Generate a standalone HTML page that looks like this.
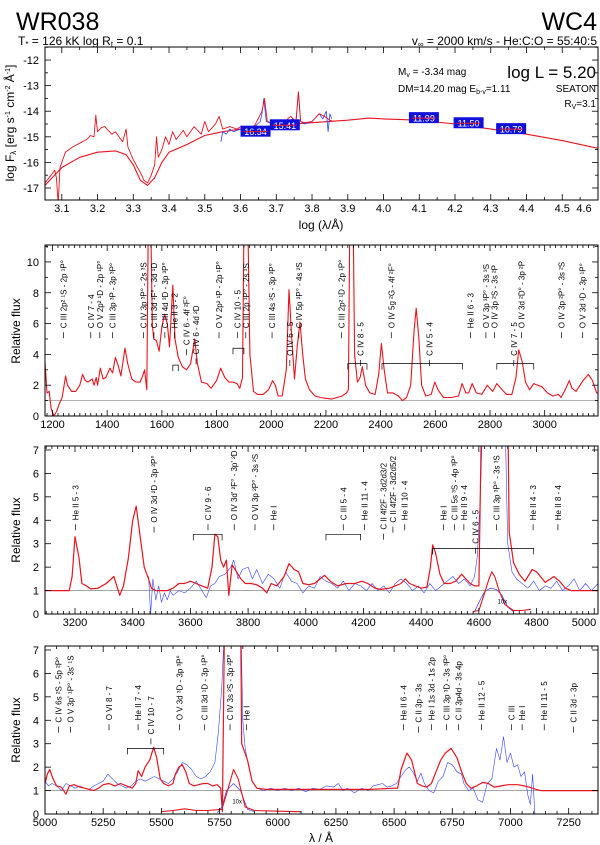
<!DOCTYPE html>
<html><head><meta charset="utf-8"><style>
html,body{margin:0;padding:0;background:#fff;}
svg{display:block;font-family:"Liberation Sans",sans-serif;}
</style></head><body>
<svg id="fig" width="600" height="845" viewBox="0 0 600 845" xmlns="http://www.w3.org/2000/svg">
<text x="16" y="30" font-size="25">WR038</text>
<text x="18" y="45" font-size="12">T<tspan font-size="8" dy="2">*</tspan><tspan dy="-2"> = 126 kK  log R</tspan><tspan font-size="8" dy="2">t</tspan><tspan dy="-2"> = 0.1</tspan></text>
<text x="597" y="30" font-size="25" text-anchor="end">WC4</text>
<text x="597" y="45" font-size="12" text-anchor="end">v<tspan font-size="8" dy="2">∞</tspan><tspan dy="-2"> = 2000 km/s - He:C:O = 55:40:5</tspan></text>
<g id="layer"></g>
</svg>
<script>
// ---------- DATA ----------
const sedModelX=[3.053,3.1,3.15,3.2,3.25,3.28,3.3,3.32,3.34,3.36,3.38,3.4,3.45,3.5,3.55,3.6,3.7,3.8,3.9,3.96,4.0,4.1,4.2,4.3,4.4,4.5,4.6];
const sedModelY=[-16.9,-16.2,-15.8,-15.6,-15.55,-15.7,-16.1,-16.7,-16.9,-16.6,-16.0,-15.6,-15.3,-14.95,-14.8,-14.7,-14.55,-14.45,-14.35,-14.27,-14.3,-14.35,-14.5,-14.7,-14.9,-15.15,-15.45];
const sedLineX=[3.053,3.07,3.08,3.085,3.09,3.095,3.11,3.13,3.15,3.17,3.18,3.19,3.195,3.2,3.21,3.22,3.23,3.24,3.25,3.26,3.27,3.28,3.285,3.3,3.32,3.33,3.34,3.35,3.36,3.365,3.37,3.38,3.39,3.4,3.41,3.42,3.44,3.45,3.47,3.49,3.5,3.51,3.53,3.54,3.55,3.57,3.59,3.6,3.62,3.64,3.66,3.667,3.675,3.7,3.72,3.74,3.755,3.762,3.768,3.78,3.8,3.82,3.835,3.85,3.86];
const sedLineY=[-16.8,-16.5,-16.3,-16.6,-17.6,-16.2,-15.6,-15.4,-15.25,-15.1,-14.95,-15.0,-14.15,-14.8,-14.65,-14.6,-14.75,-14.9,-14.8,-15.0,-15.2,-14.7,-15.4,-15.9,-16.4,-16.7,-16.8,-16.5,-16.1,-15.0,-15.8,-15.5,-15.0,-15.3,-14.8,-15.1,-14.75,-15.0,-14.6,-14.9,-14.4,-14.8,-14.5,-14.2,-14.7,-14.6,-14.7,-14.6,-14.7,-14.55,-14.0,-13.5,-14.4,-14.5,-14.45,-14.2,-14.4,-13.25,-14.4,-14.45,-14.4,-14.1,-14.2,-14.35,-14.4];
const sedObsX=[3.545,3.55,3.56,3.57,3.58,3.6,3.62,3.64,3.655,3.66,3.665,3.672,3.69,3.71,3.73,3.745,3.755,3.762,3.768,3.78,3.8,3.82,3.83,3.84,3.845,3.85,3.855];
const sedObsY=[-15.2,-14.8,-14.9,-14.7,-14.8,-14.7,-14.6,-14.6,-14.4,-14.1,-13.5,-14.4,-14.5,-14.5,-14.5,-14.3,-14.5,-13.25,-14.4,-14.5,-14.4,-14.1,-14.3,-14.0,-14.8,-14.1,-14.3];
const photX=[3.642,3.724,4.113,4.238,4.357];
const photY=[-14.8,-14.55,-14.27,-14.47,-14.7];
const photLabels=["16.34","15.41","11.99","11.50","10.79"];

const p2RedX=[1172,1180,1188,1195,1205,1215,1225,1235,1240,1248,1255,1270,1285,1300,1310,1320,1330,1345,1352,1360,1365,1375,1385,1395,1410,1420,1430,1440,1450,1465,1475,1490,1505,1520,1530,1537,1545,1550,1560,1565,1570,1580,1590,1600,1610,1620,1628,1640,1648,1660,1675,1690,1705,1720,1730,1745,1765,1780,1800,1815,1830,1845,1860,1875,1885,1895,1900,1915,1922,1935,1950,1970,1990,2005,2015,2025,2040,2055,2065,2075,2085,2095,2105,2115,2125,2140,2160,2180,2200,2220,2240,2260,2275,2282,2287,2300,2305,2315,2325,2333,2345,2360,2380,2393,2403,2413,2425,2445,2465,2480,2495,2510,2522,2530,2540,2550,2565,2585,2598,2610,2630,2660,2685,2698,2712,2722,2735,2750,2770,2790,2800,2810,2825,2840,2860,2880,2895,2905,2918,2930,2945,2960,2975,2990,3010,3030,3050,3060,3075,3090,3100,3115,3140,3160,3175,3190,3195];
const p2RedY=[3.7,1.5,1.6,0.5,0,0.3,0.8,1.2,1.7,2.6,2.0,1.6,1.6,2.0,2.7,2.3,2.2,2.4,2.0,2.5,2.0,3.1,2.4,2.5,3.1,2.8,3.8,3.3,2.6,4.4,3.4,2.4,2.2,2.2,2.6,3.0,1.7,12,12,6,5.0,4.9,4.2,5.8,6.6,6.0,4.5,8.5,5,3.8,3.2,3.0,3.4,5.0,3.4,2.2,2.1,1.8,2.3,3.1,2.5,2.2,2.2,2.1,1.8,2.5,12,12,4,1.6,1.4,1.4,1.7,2.3,2.0,1.3,1.3,3,8.2,5,2.4,4.5,6.1,4,2.4,1.7,1.3,1.2,1.15,1.1,1.2,1.3,1.5,1.7,12,12,4,2.2,2.5,3.2,2.0,1.5,1.4,2.7,4.7,3.0,1.5,1.5,1.3,1.0,1.2,2.0,5.5,7.0,5,2.0,1.3,1.4,2.2,1.7,1.2,1.2,1.3,2.1,1.5,1.5,2.1,1.5,1.4,2.0,1.8,1.6,2.1,1.8,1.4,1.4,2.5,4.3,3.5,2.2,1.7,2.1,2.0,1.9,1.5,1.3,1.4,1.2,1.7,2.3,1.8,1.6,2.3,2.7,2.3,1.5,1.5];

const p3RedX=[3096,3180,3190,3200,3214,3224,3240,3254,3280,3308,3335,3355,3368,3385,3400,3412,3425,3440,3455,3465,3480,3500,3520,3540,3560,3580,3600,3620,3640,3660,3675,3685,3695,3705,3715,3725,3733,3745,3760,3775,3790,3810,3830,3850,3865,3880,3900,3925,3942,3960,3975,3990,4010,4030,4050,4065,4085,4110,4140,4170,4195,4215,4240,4260,4290,4310,4330,4345,4360,4380,4400,4420,4432,4440,4450,4465,4480,4500,4520,4540,4555,4570,4585,4600,4610,4700,4705,4720,4740,4760,4785,4800,4830,4860,4880,4900,4920,5013];
const p3RedY=[1.0,1.0,1.6,3.3,2.4,1.3,1.2,1.07,1.1,1.3,1.6,0.8,1.2,2.4,4.0,4.6,3.4,2.0,1.5,1.1,1.0,1.0,1.0,1.1,1.3,1.3,1.4,1.3,1.2,1.1,2.0,3.4,3.3,2.3,2.0,2.3,0.8,2.1,1.8,1.5,1.3,1.3,1.25,1.1,0.9,1.3,1.2,1.6,2.15,1.9,1.8,1.3,1.25,1.3,1.5,1.65,1.4,1.2,1.3,1.3,1.4,1.3,1.1,1.05,1.1,1.2,1.3,1.5,1.3,1.2,1.1,1.15,2.0,2.95,2.6,1.7,1.3,1.3,1.4,1.7,1.5,1.3,1.2,1.2,9,9,3.5,2.2,1.7,1.4,1.9,1.8,1.35,1.6,1.4,1.1,1.0,1.0];
const p3BlueX=[3455,3462,3470,3480,3490,3500,3510,3520,3530,3540,3560,3580,3600,3620,3640,3655,3670,3685,3700,3720,3740,3750,3765,3780,3800,3815,3830,3850,3870,3890,3910,3930,3950,3970,3990,4010,4030,4050,4070,4090,4110,4130,4150,4170,4190,4210,4230,4250,4270,4290,4310,4330,4350,4370,4390,4410,4430,4450,4470,4490,4510,4530,4550,4570,4585,4595,4605,4615,4690,4700,4715,4730,4750,4770,4790,4810,4830,4850,4870,4890,4910,4930,4950,4970,4990,5013];
const p3BlueY=[1.6,0.0,1.5,0.6,1.2,0.5,0.9,0.6,1.0,0.8,1.0,0.9,1.1,1.4,1.0,0.7,1.2,1.3,1.6,1.7,2.0,2.3,1.5,1.9,2.0,1.5,1.9,1.3,1.7,1.5,1.1,1.8,1.4,1.3,0.9,1.2,1.1,1.6,1.4,1.3,1.1,1.4,1.0,1.3,1.2,1.0,1.3,1.0,1.2,0.9,1.3,1.5,1.3,1.0,1.2,0.9,1.3,1.0,1.2,1.4,1.6,1.3,1.5,1.2,1.6,2.5,5,9,9,3,1.8,1.5,1.3,1.1,1.4,1.0,1.2,1.1,1.4,1.0,1.2,1.5,1.0,1.3,1.0,1.3];
const p3InsetRedX=[4580,4600,4620,4635,4645,4655,4670,4690,4720,4750,4780];
const p3InsetRedY=[0.1,0.15,0.9,1.5,1.8,1.6,1.0,0.4,0.15,0.15,0.2];
const p3InsetBlueX=[4585,4600,4620,4640,4660,4680,4700,4720];
const p3InsetBlueY=[0.1,0.5,0.95,1.1,1.05,0.8,0.3,0.1];

const p4RedX=[5000,5010,5020,5035,5050,5070,5090,5105,5125,5150,5170,5190,5210,5230,5250,5275,5300,5325,5350,5375,5390,5400,5415,5430,5450,5467,5480,5495,5510,5530,5550,5560,5575,5590,5605,5620,5640,5660,5680,5700,5720,5740,5755,5762,5772,5840,5845,5870,5890,5910,5950,6000,6100,6200,6300,6400,6500,6515,6530,6555,6575,6600,6620,6640,6660,6680,6700,6720,6745,6770,6790,6810,6830,6855,6880,6905,6930,6960,6990,7030,7060,7080,7110,7130,7376];
const p4RedY=[1.3,1.7,1.9,1.5,1.2,1.15,0.85,1.2,1.25,1.15,1.1,1.05,1.0,1.1,1.25,1.3,1.2,1.3,1.2,1.1,1.3,1.85,1.6,2.0,2.3,2.85,2.4,1.5,1.3,1.2,1.3,1.7,2.0,2.1,1.8,1.3,1.2,1.25,1.3,1.3,1.2,1.25,1.1,0.1,9,9,3.0,2.3,1.4,1.1,1.05,1.05,1.05,1.05,1.05,1.05,1.1,1.1,1.9,2.6,2.3,1.3,1.2,1.15,1.3,1.8,2.3,2.6,2.8,2.4,1.8,1.3,1.1,1.2,1.35,1.3,1.15,1.2,1.25,1.25,1.2,1.15,1.05,1.0,1.0];
const p4BlueX=[5000,5015,5030,5050,5070,5090,5110,5130,5150,5170,5190,5210,5230,5250,5270,5290,5310,5330,5350,5370,5390,5410,5430,5450,5470,5490,5510,5530,5550,5570,5590,5610,5630,5650,5670,5690,5710,5730,5745,5760,5775,5840,5850,5860,5875,5890,5910,5940,5970,6000,6030,6060,6090,6120,6150,6180,6210,6240,6260,6280,6300,6330,6360,6390,6410,6430,6450,6470,6490,6510,6530,6550,6565,6580,6600,6615,6630,6650,6670,6690,6710,6730,6750,6770,6790,6800,6820,6840,6860,6880,6900,6920,6940,6955,6970,6985,7000,7015,7030,7045,7060,7075,7085,7095,7105];
const p4BlueY=[1.4,1.2,1.3,1.2,1.0,1.3,1.2,1.1,1.2,1.1,1.05,1.2,1.3,1.4,1.7,1.5,1.3,1.2,1.1,1.2,1.4,1.5,1.4,1.5,1.6,1.5,1.4,1.3,1.5,1.8,2.2,2.1,1.9,1.6,1.5,1.6,1.8,2.2,3.5,5.5,9,9,4,2.8,2.0,1.4,1.1,1.0,1.1,1.0,1.1,1.0,1.1,0.95,1.1,1.05,1.2,1.15,1.3,1.0,1.1,0.9,1.1,1.0,1.2,1.25,1.3,1.15,1.2,1.3,1.6,1.9,2.0,1.8,1.4,1.75,1.3,1.0,0.9,1.4,1.6,2.2,2.1,1.8,1.7,1.3,1.0,1.1,0.6,0.5,1.3,1.5,2.8,2.3,3.3,2.2,2.6,2.0,2.1,1.6,1.8,0.8,0.4,1.7,0];
const p4InsetRedX=[5500,5550,5600,5650,5700,5760,5790,5810,5830,5860,5900,6000,6100];
const p4InsetRedY=[0.1,0.15,0.22,0.15,0.15,0.2,1.2,1.9,1.5,0.3,0.15,0.12,0.1];
const p4InsetBlueX=[5740,5760,5780,5810,5840,5870,5900];
const p4InsetBlueY=[0.05,0.3,1.0,1.3,1.0,0.2,0.1];

// line identifications: wavelength, label, text-start value
const p2Ids=[[1240,"C III 2p² ¹S - 2p ¹P°",5.7],[1340,"C IV 7 - 4",5.7],[1373,"O V 2p² ¹D - 2p ¹P°",5.7],[1419,"C III 3p ³P - 3p ³P°",5.7],[1533,"C IV 3p ³P° - 2s ³S",5.7],[1571,"C III 3d ¹F° - 3d ¹D",5.7],[1611,"C III 4d ³D - 3p ³P°",5.7],[1646,"He II 3 - 2",5.7],[1690,"C IV 6 - 4f ²F°",4.6],[1725,"C IV 6 - 4d ²D",4.0],[1809,"O V 2p² ¹P - 2p ¹P°",5.7],[1876,"C IV 10 - 5",5.7],[1907,"C III 2p ¹P° - 2s ¹S",5.7],[2003,"C III 4s ³S - 3p ³P°",5.7],[2068,"O IV 6 - 5",3.9],[2101,"C IV 5p ²P° - 4s ²S",5.7],[2257,"C III 2p² ¹D - 2p ¹P°",5.7],[2327,"C IV 8 - 5",3.9],[2439,"O IV 5g ²G - 4f ²F°",5.7],[2579,"C IV 5 - 4",3.9],[2729,"He II 6 - 3",5.7],[2785,"O V 3p ³P° - 3s ³S",5.7],[2817,"O IV 3p ²S - 3s ²P",5.7],[2887,"C IV 7 - 5",3.9],[2915,"O IV 3d ²D° - 3p ²P",5.7],[3062,"O IV 3p ²P° - 3s ²S",5.7],[3139,"O V 3d ¹D - 3p ¹P°",5.7]];
const p3Ids=[[3202,"He II 5 - 3",4.0],[3474,"O IV 3d ²D - 3p ²P°",3.9],[3661,"C IV 9 - 6",4.0],[3752,"O IV 3d' ²F° - 3p' ²D",4.0],[3824,"O VI 3p ²P° - 3s ²S",4.0],[3889,"He I",4.0],[4130,"C III 5 - 4",4.0],[4204,"He II 11 - 4",4.0],[4270,"C II 4f2F - 3d2d3/2",3.6],[4302,"C II 4f2F - 3d2d5/2",3.9],[4343,"He II 10 - 4",4.0],[4478,"He I",4.0],[4515,"C III 5s ³S - 4p ³P°",4.0],[4548,"He II 9 - 4",4.0],[4588,"C IV 6 - 5",3.0],[4661,"C III 3p ³P° - 3s ³S",4.0],[4788,"He II 4 - 3",4.0],[4874,"He II 8 - 4",4.0]];
const p4Ids=[[5058,"C IV 6s ²S - 5p ²P°",3.9],[5110,"O V 3p' ¹P° - 3s' ¹S",3.9],[5275,"O VI 8 - 7",4.0],[5400,"He II 7 - 4",4.0],[5455,"C IV 10 - 7",3.4],[5578,"O V 3d ³D - 3p ³P°",4.0],[5686,"C III 3d ¹D - 3p ¹P°",4.0],[5795,"C IV 3s ²S - 3p ²P°",4.0],[5866,"He I",4.0],[6540,"He II 6 - 4",4.0],[6605,"C II 3p - 3s",3.9],[6660,"He I 1s 3d - 1s 2p",4.0],[6725,"C III 3p ³D - 3s ³P°",4.0],[6777,"C II 3p4d - 3s 4p",4.0],[6876,"He II 12 - 5",4.0],[7004,"C III",4.0],[7050,"He I",4.0],[7145,"He II 11 - 5",4.0],[7270,"C II 3d - 3p",3.9]];
// multiplet brackets: start, end, level
const p2Brackets=[[1640,1660,3.3],[1860,1900,4.4],[2280,2350,3.4],[2405,2700,3.4],[2825,2960,3.4]];
const p3Brackets=[[3610,3710,3.4],[4070,4190,3.4],[4440,4790,2.8]];
const p4Brackets=[[5354,5510,2.8]];

// ---------- DRAWING ----------
const NS="http://www.w3.org/2000/svg";
const layer=document.getElementById('layer');
function mk(tag,attrs,parent){const e=document.createElementNS(NS,tag);for(const k in attrs)e.setAttribute(k,attrs[k]);(parent||layer).appendChild(e);return e;}
function axes(c){return {x:v=>c.L+(v-c.xmin)/(c.xmax-c.xmin)*(c.R-c.L),y:v=>c.B-(v-c.ymin)/(c.ymax-c.ymin)*(c.B-c.T)};}
function panel(c,name){
  const g=mk('g',{});
  
  
  const clipId='clip-'+name;
  const cp=mk('clipPath',{id:clipId},g);mk('rect',{x:c.L,y:c.T,width:c.R-c.L,height:c.B-c.T},cp);
  const A=axes(c);
  const plot=mk('g',{'clip-path':'url(#'+clipId+')'},g);
  
  
  const xt=mk('g',{stroke:'#000','stroke-width':0.8},g);
  
  
  const eps=1e-6;
  for(let v=Math.ceil(c.xmin/c.minor)*c.minor;v<=c.xmax+eps;v+=c.minor){
    const isMaj=Math.abs(v/c.major-Math.round(v/c.major))<1e-4;const L=isMaj?6:3;const X=A.x(v);
    mk('line',{x1:X,x2:X,y1:c.B,y2:c.B-L},xt);mk('line',{x1:X,x2:X,y1:c.T,y2:c.T+L},xt);
    if(isMaj){let lx=X;const s=c.fmt(v);if(lx>c.R-14)lx=c.R-14;const t=mk('text',{x:lx,y:c.B+12,'font-size':11,'text-anchor':'middle',stroke:'none',fill:'#000'},g);t.textContent=s;
      
      }
  }
  const yt=mk('g',{stroke:'#000','stroke-width':0.8},g);
  
  
  for(let v=Math.ceil(c.ymin/c.yminor)*c.yminor;v<=c.ymax+eps;v+=c.yminor){
    const isMaj=Math.abs(v/c.ymajor-Math.round(v/c.ymajor))<1e-4;const L=isMaj?6:3;const Y=A.y(v);
    mk('line',{x1:c.L,x2:c.L+L,y1:Y,y2:Y},yt);mk('line',{x1:c.R,x2:c.R-L,y1:Y,y2:Y},yt);
    if(isMaj){const t=mk('text',{x:c.L-6,y:Y+4,'font-size':11,'text-anchor':'end',stroke:'none',fill:'#000'},g);t.textContent=String(Math.round(v));
      
      }
  }
  const fr=mk('rect',{x:c.L,y:c.T,width:c.R-c.L,height:c.B-c.T,fill:'none',stroke:'#000','stroke-width':1},g);
  
  
  return {g,plot,A};
}
function curve(P,xs,ys,color,w,name){
  const d=xs.map((x,i)=>(i?'L':'M')+P.A.x(x).toFixed(1)+' '+P.A.y(ys[i]).toFixed(1)).join(' ');
  const p=mk('path',{d:d,fill:'none',stroke:color,'stroke-width':w,'stroke-linejoin':'round'},P.plot);
  
  
}
function hline(P,c,v){const l=mk('line',{x1:c.L,x2:c.R,y1:P.A.y(v),y2:P.A.y(v),stroke:'#999','stroke-width':0.8},P.plot);
  
  }
function ids(P,list,tickLen){
  list.forEach(d=>{
    const X=P.A.x(d[0]),Y=P.A.y(d[2]);
    const tk=mk('line',{x1:X,x2:X,y1:Y+4,y2:Y+4+tickLen,stroke:'#000','stroke-width':0.7},P.g);
    
    
    const t=mk('text',{x:X+3,y:Y,'font-size':8,transform:'rotate(-90 '+(X+3)+' '+Y+')',fill:'#000'},P.g);
    t.textContent=d[1];
    
    
  });
}
function brackets(P,list){
  list.forEach(b=>{
    const x1=P.A.x(b[0]),x2=P.A.x(b[1]),Y=P.A.y(b[2]);
    const p=mk('path',{d:`M${x1} ${Y+6}V${Y}H${x2}V${Y+6}`,fill:'none',stroke:'#000','stroke-width':0.7},P.g);
    
    
  });
}
function inset(P,x,v){const t=mk('text',{x:P.A.x(x),y:P.A.y(v),'font-size':6,fill:'#000'},P.g);t.textContent='10x';
  
  }
function ytitle(x,y,html,name){const t=mk('text',{x:x,y:y,'font-size':12,'text-anchor':'middle',transform:`rotate(-90 ${x} ${y})`});t.innerHTML=html;
  
  }

// Panel 1: SED
const c1={L:45,R:598,T:47,B:200,xmin:3.053,xmax:4.6,ymin:-17.47,ymax:-11.49,major:0.1,minor:0.05,ymajor:1,yminor:0.5,fmt:v=>v.toFixed(1)};
const P1=panel(c1,'sed-panel');
curve(P1,sedModelX,sedModelY,'#e8141e',1.1,'sed-continuum-model');
curve(P1,sedObsX,sedObsY,'#3344ff',0.8,'sed-observed');
curve(P1,sedLineX,sedLineY,'#e8141e',0.9,'sed-line-model');
photX.forEach((x,i)=>{const X=P1.A.x(x),Y=P1.A.y(photY[i]);
  const r=mk('rect',{x:X-15,y:Y-6,width:30,height:11,fill:'#1010dd'},P1.g);
  
  
  const t=mk('text',{x:X,y:Y+3.5,'font-size':9,'text-anchor':'middle',fill:'#fff'},P1.g);t.textContent=photLabels[i];
  
  
  const l=mk('line',{x1:X-12,x2:X+12,y1:Y,y2:Y,stroke:'#e8141e','stroke-width':1},P1.g);
  
  });
[[398,75,"M<tspan font-size='7' dy='2'>v</tspan><tspan dy='-2'> = -3.34 mag</tspan>",10,'start','abs-mag'],[398,92,"DM=14.20 mag  E<tspan font-size='7' dy='2'>b-v</tspan><tspan dy='-2'>=1.11</tspan>",10,'start','distance-modulus'],[596,78,"log L = 5.20",17,'end','luminosity'],[596,92,"SEATON",10,'end','extinction-law'],[596,107,"R<tspan font-size='7' dy='2'>V</tspan><tspan dy='-2'>=3.1</tspan>",10,'end','rv-value']].forEach(a=>{
  const t=mk('text',{x:a[0],y:a[1],'font-size':a[3],'text-anchor':a[4]});t.innerHTML=a[2];
  
  });
const xt1=mk('text',{x:321,y:229,'font-size':12,'text-anchor':'middle'});xt1.textContent='log (λ/Å)';


ytitle(14,123,"log F<tspan font-size='8' dy='2'>λ</tspan><tspan dy='-2'> [erg s</tspan><tspan font-size='7' dy='-4'>-1</tspan><tspan dy='4'> cm</tspan><tspan font-size='7' dy='-4'>-2</tspan><tspan dy='4'> Å</tspan><tspan font-size='7' dy='-4'>-1</tspan><tspan dy='4'>]</tspan>",'sed-y-axis-title');

// Panel 2: UV
const c2={L:45,R:598,T:245,B:416,xmin:1172.6,xmax:3195,ymin:0,ymax:11.1,major:200,minor:20,ymajor:2,yminor:1,fmt:v=>String(Math.round(v))};
const P2=panel(c2,'uv-panel');
hline(P2,c2,1);
curve(P2,p2RedX,p2RedY,'#e8141e',1.1,'uv-model-spectrum');
ids(P2,p2Ids,6);brackets(P2,p2Brackets);
ytitle(20,331,'Relative flux','uv-y-axis-title');

// Panel 3: blue optical
const c3={L:45,R:598,T:446,B:614,xmin:3096,xmax:5013,ymin:0,ymax:7.17,major:200,minor:20,ymajor:1,yminor:1,fmt:v=>String(Math.round(v))};
const P3=panel(c3,'blue-panel');
hline(P3,c3,1);
curve(P3,p3BlueX,p3BlueY,'#3344ff',0.6,'blue-observed-spectrum');
curve(P3,p3RedX,p3RedY,'#e8141e',1.2,'blue-model-spectrum');
curve(P3,p3InsetBlueX,p3InsetBlueY,'#3344ff',0.7,'blue-inset-observed');
curve(P3,p3InsetRedX,p3InsetRedY,'#e8141e',1.1,'blue-inset-model');
inset(P3,4665,0.45);
ids(P3,p3Ids,6);brackets(P3,p3Brackets);
ytitle(20,530,'Relative flux','blue-y-axis-title');

// Panel 4: red optical
const c4={L:45,R:598,T:646,B:814,xmin:5000,xmax:7376,ymin:0,ymax:7.17,major:250,minor:50,ymajor:1,yminor:1,fmt:v=>String(Math.round(v))};
const P4=panel(c4,'red-panel');
hline(P4,c4,1);
curve(P4,p4BlueX,p4BlueY,'#3344ff',0.6,'red-observed-spectrum');
curve(P4,p4RedX,p4RedY,'#e8141e',1.2,'red-model-spectrum');
curve(P4,p4InsetBlueX,p4InsetBlueY,'#3344ff',0.7,'red-inset-observed');
curve(P4,p4InsetRedX,p4InsetRedY,'#e8141e',1.1,'red-inset-model');
inset(P4,5805,0.45);
ids(P4,p4Ids,6);brackets(P4,p4Brackets);
ytitle(20,730,'Relative flux','red-y-axis-title');
const xt4=mk('text',{x:321,y:842,'font-size':12,'text-anchor':'middle'});xt4.textContent='λ / Å';


</script>
</body></html>
